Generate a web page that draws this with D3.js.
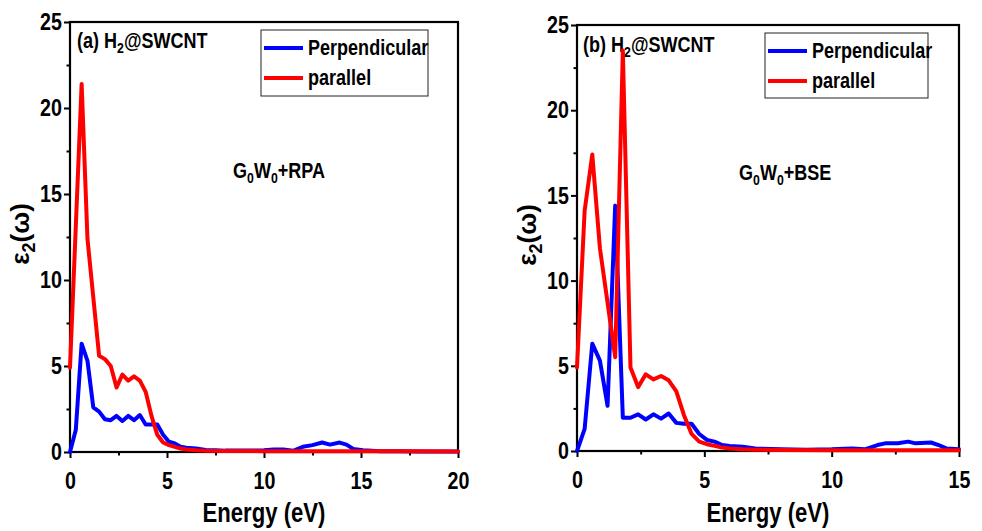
<!DOCTYPE html>
<html>
<head>
<meta charset="utf-8">
<script src="https://cdn.jsdelivr.net/npm/d3@7"></script>
<style>
  html, body { margin: 0; padding: 0; background: #fff; }
  svg { display: block; }
  text { font-family: "Liberation Sans", Arial, "Helvetica Neue", sans-serif; font-weight: bold; fill: #000; }
</style>
</head>
<body>
<svg id="chart" width="982" height="531"></svg>
<script>
// Imaginary part of the dielectric function, ε2(ω), of H2@SWCNT
// [energy (eV), ε2] pairs for each polarisation and level of theory.
const rpaPerpendicular = [
  [0, 0], [0.3, 1.3], [0.6, 6.3], [0.9, 5.3], [1.2, 2.6], [1.5, 2.35], [1.8, 1.9],
  [2.1, 1.85], [2.4, 2.1], [2.7, 1.8], [3.0, 2.1], [3.3, 1.85], [3.6, 2.15],
  [3.9, 1.6], [4.2, 1.6], [4.5, 1.6], [4.8, 1.0], [5.1, 0.6], [5.4, 0.5],
  [5.7, 0.3], [6.0, 0.25], [6.5, 0.2], [7.0, 0.12], [7.5, 0.1], [8.0, 0.08],
  [9.0, 0.08], [10.0, 0.1], [10.5, 0.15], [11.0, 0.15], [11.5, 0.07], [12.0, 0.3],
  [12.5, 0.4], [13.0, 0.55], [13.4, 0.43], [13.9, 0.55], [14.25, 0.43], [14.6, 0.18],
  [15.1, 0.1], [16, 0.05], [17, 0.04], [18, 0.03], [19, 0.03], [20, 0.03]
];
const rpaParallel = [
  [0, 4.9], [0.6, 21.4], [0.9, 12.4], [1.5, 5.6], [1.8, 5.4], [2.1, 5.0],
  [2.4, 3.75], [2.7, 4.5], [3.0, 4.15], [3.3, 4.4], [3.6, 4.15], [3.9, 3.5],
  [4.2, 2.1], [4.5, 1.0], [4.8, 0.55], [5.1, 0.4], [5.4, 0.3], [5.7, 0.2],
  [6.0, 0.15], [6.5, 0.1], [7.0, 0.07], [8.0, 0.06], [10.0, 0.05], [12.0, 0.05],
  [15.0, 0.05], [17.5, 0.04], [20.0, 0.03]
];
const bsePerpendicular = [
  [0, 0], [0.3, 1.3], [0.6, 6.3], [0.9, 5.3], [1.2, 2.65], [1.5, 14.4], [1.8, 1.95],
  [2.1, 1.95], [2.4, 2.15], [2.7, 1.85], [3.0, 2.15], [3.3, 1.9], [3.6, 2.2],
  [3.9, 1.65], [4.2, 1.6], [4.5, 1.6], [4.8, 1.0], [5.1, 0.65], [5.4, 0.55],
  [5.7, 0.35], [6.0, 0.3], [6.5, 0.25], [7.0, 0.15], [8.0, 0.1], [9.0, 0.08],
  [10.0, 0.1], [10.8, 0.15], [11.3, 0.1], [11.8, 0.35], [12.1, 0.45], [12.6, 0.45],
  [13.0, 0.55], [13.3, 0.45], [13.9, 0.5], [14.2, 0.35], [14.5, 0.15], [15.0, 0.1]
];
const bseParallel = [
  [0, 4.9], [0.3, 14.1], [0.6, 17.4], [0.9, 11.9], [1.5, 5.5], [1.8, 23.5],
  [2.1, 4.9], [2.4, 3.75], [2.7, 4.5], [3.0, 4.2], [3.3, 4.4], [3.6, 4.15],
  [3.9, 3.5], [4.2, 2.1], [4.5, 1.0], [4.8, 0.55], [5.1, 0.4], [5.4, 0.3],
  [5.7, 0.2], [6.0, 0.15], [6.5, 0.1], [7.0, 0.07], [8.0, 0.06], [10.0, 0.05],
  [12.0, 0.05], [15.0, 0.05]
];

const seriesNames = ["Perpendicular", "parallel"];
const seriesColors = ["#0000ff", "#ff0000"];
const yTicks = [0, 5, 10, 15, 20, 25];
const yMinorTicks = [2.5, 7.5, 12.5, 17.5, 22.5];
const xTicksRpa = [0, 5, 10, 15, 20];
const xMinorTicksRpa = [2.5, 7.5, 12.5, 17.5];
const xTicksBse = [0, 5, 10, 15];
const xMinorTicksBse = [2.5, 7.5, 12.5];

// condensed bold lettering: horizontal squeeze of the bold face
const NARROW = 0.82;

const svg = d3.select("#chart");

const panels = [
  {
    box: { left: 70, right: 458, top: 22, bottom: 452 },
    xMax: 20, xTicks: xTicksRpa, xMinor: xMinorTicksRpa,
    series: [rpaPerpendicular, rpaParallel],
    tag: "(a) H", tagPos: [77, 48],
    method: "+RPA", methodPos: [233, 178],
    legend: { x: 261, y: 30, w: 167, h: 66 },
    yLabelX: 29
  },
  {
    box: { left: 577, right: 959, top: 25, bottom: 451 },
    xMax: 15, xTicks: xTicksBse, xMinor: xMinorTicksBse,
    series: [bsePerpendicular, bseParallel],
    tag: "(b) H", tagPos: [583, 52],
    method: "+BSE", methodPos: [739, 180],
    legend: { x: 765, y: 33, w: 163, h: 65 },
    yLabelX: 536
  }
];

function narrowText(parent, x, y, extra) {
  return parent.append("text")
    .attr("transform", `translate(${x},${y})${extra || ""} scale(${NARROW},1)`);
}

panels.forEach(p => {
  const b = p.box;
  const x = d3.scaleLinear().domain([0, p.xMax]).range([b.left, b.right]);
  const y = d3.scaleLinear().domain([0, 25]).range([b.bottom, b.top]);
  const g = svg.append("g");

  // major and minor ticks, outward
  const xAxis = g.append("g").attr("transform", `translate(0,${b.bottom})`)
    .call(d3.axisBottom(x).tickValues(p.xTicks).tickSize(6).tickPadding(14).tickFormat(d3.format("d")));
  const xMinor = g.append("g").attr("transform", `translate(0,${b.bottom})`)
    .call(d3.axisBottom(x).tickValues(p.xMinor).tickSize(3.5).tickFormat(""));
  const yAxis = g.append("g").attr("transform", `translate(${b.left},0)`)
    .call(d3.axisLeft(y).tickValues(yTicks).tickSize(6).tickPadding(2).tickFormat(d3.format("d")));
  const yMinor = g.append("g").attr("transform", `translate(${b.left},0)`)
    .call(d3.axisLeft(y).tickValues(yMinorTicks).tickSize(3.5).tickFormat(""));
  [xAxis, xMinor, yAxis, yMinor].forEach(a => {
    a.select(".domain").remove();
    a.selectAll(".tick line").attr("stroke", "#000").attr("stroke-width", 2);
    a.selectAll(".tick text").style("font-size", "24px").style("font-family", null).attr("fill", "#000");
  });
  xAxis.selectAll(".tick text").attr("transform", `scale(${NARROW},1)`);
  yAxis.selectAll(".tick text").each(function () {
    const t = d3.select(this);
    const tx = +t.attr("x");
    t.attr("x", 0).attr("transform", `translate(${tx},0) scale(${NARROW},1)`);
  });

  // frame
  g.append("rect")
    .attr("x", b.left).attr("y", b.top)
    .attr("width", b.right - b.left).attr("height", b.bottom - b.top)
    .attr("fill", "none").attr("stroke", "#000").attr("stroke-width", 2.2);

  // axis titles
  narrowText(g, (b.left + b.right) / 2, 522)
    .attr("text-anchor", "middle").style("font-size", "27px")
    .text("Energy (eV)");
  const yl = g.append("text")
    .attr("transform", `translate(${p.yLabelX},${(b.top + b.bottom) / 2 - 3}) rotate(-90)`)
    .attr("text-anchor", "middle").style("font-size", "26px");
  yl.append("tspan").text("ε");
  yl.append("tspan").attr("dy", 6).style("font-size", "18px").text("2");
  yl.append("tspan").attr("dy", -6).text("(ω)");

  // panel annotations
  const tag = narrowText(g, p.tagPos[0], p.tagPos[1]).style("font-size", "22px");
  tag.append("tspan").text(p.tag);
  tag.append("tspan").attr("dy", 5).style("font-size", "15px").text("2");
  tag.append("tspan").attr("dy", -5).text("@SWCNT");

  const m = narrowText(g, p.methodPos[0], p.methodPos[1]).style("font-size", "22px");
  m.append("tspan").text("G");
  m.append("tspan").attr("dy", 5).style("font-size", "15px").text("0");
  m.append("tspan").attr("dy", -5).text("W");
  m.append("tspan").attr("dy", 5).style("font-size", "15px").text("0");
  m.append("tspan").attr("dy", -5).text(p.method);

  // spectra
  const line = d3.line().x(d => x(d[0])).y(d => y(d[1]));
  p.series.forEach((s, i) => {
    g.append("path").datum(s)
      .attr("d", line)
      .attr("fill", "none")
      .attr("stroke", seriesColors[i])
      .attr("stroke-width", 4)
      .attr("stroke-linejoin", "round")
      .attr("stroke-linecap", "round");
  });

  // legend
  const L = p.legend;
  const lg = g.append("g");
  lg.append("rect").attr("x", L.x).attr("y", L.y).attr("width", L.w).attr("height", L.h)
    .attr("fill", "#fff").attr("stroke", "#222").attr("stroke-width", 1);
  seriesNames.forEach((name, i) => {
    const yy = L.y + 18 + i * 30;
    lg.append("line").attr("x1", L.x + 3).attr("x2", L.x + 42).attr("y1", yy).attr("y2", yy)
      .attr("stroke", seriesColors[i]).attr("stroke-width", 4);
    narrowText(lg, L.x + 47, yy + 7).style("font-size", "22px").text(name);
  });
});
</script>
</body>
</html>
